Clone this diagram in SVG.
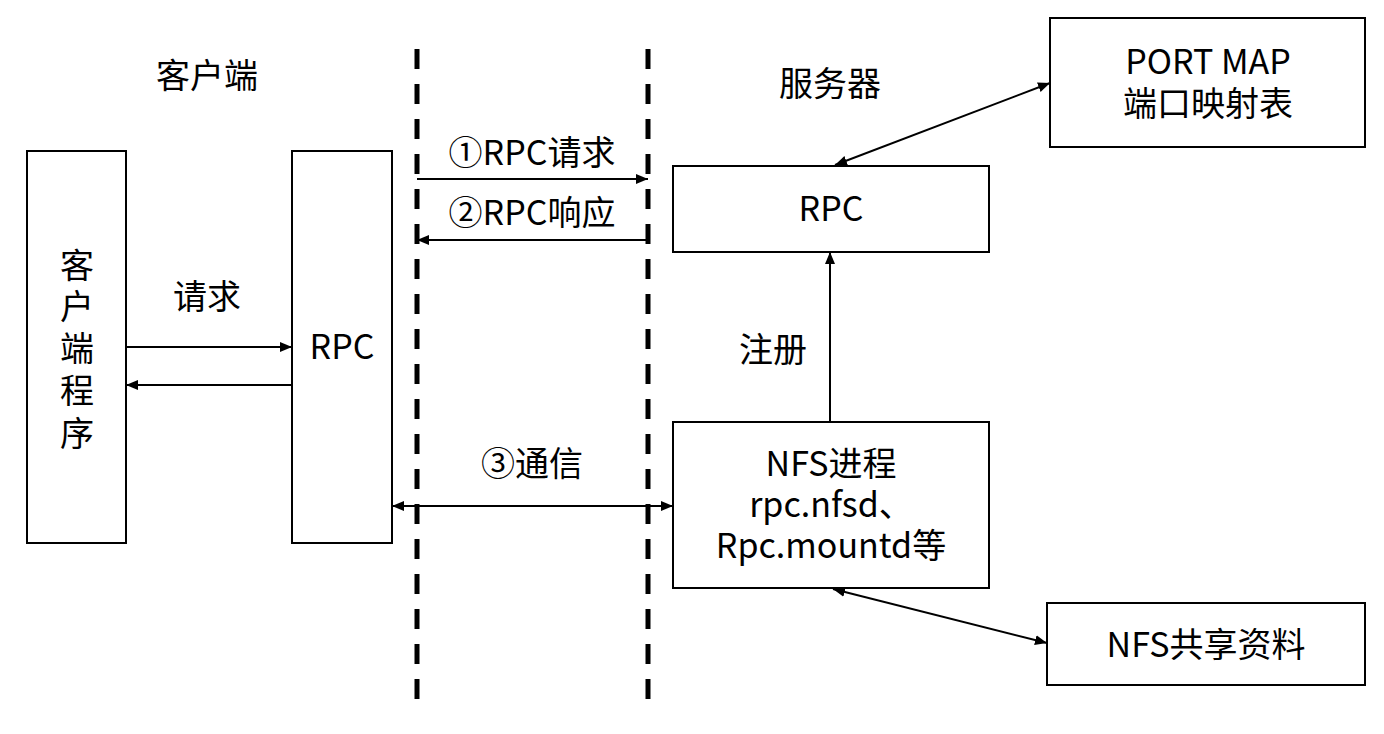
<svg xmlns="http://www.w3.org/2000/svg" width="1384" height="734" viewBox="0 0 1384 734">
<style>
.box{fill:#fff;stroke:#000;stroke-width:2}
.t{font-family:"Noto Sans CJK SC","Noto Sans",sans-serif;font-size:34px;fill:#000;text-anchor:middle}
.ln{stroke:#000;stroke-width:2;fill:none}
.dash{stroke:#000;stroke-width:5;stroke-dasharray:20 15;fill:none}
</style>
<defs>
<marker id="ah" viewBox="0 0 12 10" refX="12" refY="5" markerWidth="12" markerHeight="10" markerUnits="userSpaceOnUse" orient="auto-start-reverse">
<path d="M0,0 L12,5 L0,10 z" fill="#000"/>
</marker>
</defs>
<rect width="1384" height="734" fill="#fff"/>
<g id="labels">
<text class="t" x="207" y="88">客户端</text>
<text class="t" x="830" y="96">服务器</text>
<text class="t" x="207" y="309">请求</text>
<text class="t" x="532" y="165">①RPC请求</text>
<text class="t" x="532" y="225">②RPC响应</text>
<text class="t" x="773" y="362">注册</text>
<text class="t" x="532" y="476">③通信</text>
</g>
<g id="dividers">
<line class="dash" x1="417" y1="49" x2="417" y2="700"/>
<line class="dash" x1="648" y1="49" x2="648" y2="700"/>
</g>
<g id="client-program">
<rect class="box" x="27" y="151" width="99" height="392"/>
<text class="t" x="77" y="278">客</text>
<text class="t" x="77" y="319">户</text>
<text class="t" x="77" y="361">端</text>
<text class="t" x="77" y="403">程</text>
<text class="t" x="77" y="446">序</text>
</g>
<g id="client-rpc">
<rect class="box" x="292" y="151" width="100" height="392"/>
<text class="t" x="342" y="359">RPC</text>
</g>
<g id="server-rpc">
<rect class="box" x="673" y="166" width="316" height="86"/>
<text class="t" x="831" y="221">RPC</text>
</g>
<g id="portmap">
<rect class="box" x="1050" y="18" width="315" height="129"/>
<text class="t" x="1208" y="74">PORT MAP</text>
<text class="t" x="1208" y="116">端口映射表</text>
</g>
<g id="nfs-process">
<rect class="box" x="673" y="422" width="316" height="166"/>
<text class="t" x="831" y="476">NFS进程</text>
<text class="t" x="831" y="517">rpc.nfsd、</text>
<text class="t" x="831" y="558">Rpc.mountd等</text>
</g>
<g id="nfs-share">
<rect class="box" x="1047" y="603" width="318" height="82"/>
<text class="t" x="1206" y="657">NFS共享资料</text>
</g>
<g id="connectors">
<line class="ln" x1="126" y1="347" x2="292" y2="347" marker-end="url(#ah)"/>
<line class="ln" x1="292" y1="385" x2="126" y2="385" marker-end="url(#ah)"/>
<line class="ln" x1="417" y1="179" x2="648" y2="179" marker-end="url(#ah)"/>
<line class="ln" x1="648" y1="240" x2="417" y2="240" marker-end="url(#ah)"/>
<line class="ln" x1="392" y1="506" x2="673" y2="506" marker-start="url(#ah)" marker-end="url(#ah)"/>
<line class="ln" x1="830" y1="422" x2="830" y2="252" marker-end="url(#ah)"/>
<line class="ln" x1="835" y1="165" x2="1050" y2="83" marker-start="url(#ah)" marker-end="url(#ah)"/>
<line class="ln" x1="833" y1="589" x2="1047" y2="643" marker-start="url(#ah)" marker-end="url(#ah)"/>
</g>
</svg>
